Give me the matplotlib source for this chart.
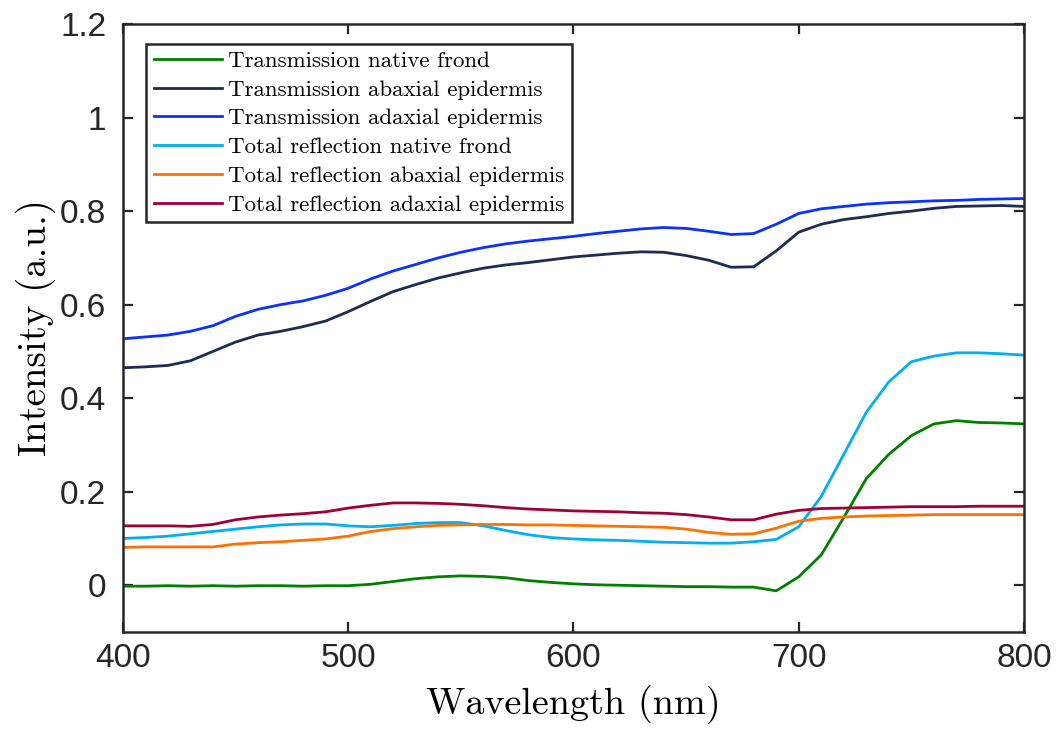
import matplotlib
matplotlib.use("Agg")
import matplotlib.pyplot as plt

wl = [400, 410, 420, 430, 440, 450, 460, 470, 480, 490,
      500, 510, 520, 530, 540, 550, 560, 570, 580, 590,
      600, 610, 620, 630, 640, 650, 660, 670, 680, 690,
      700, 710, 720, 730, 740, 750, 760, 770, 780, 790, 800]

trans_native = [-0.002, -0.002, -0.001, -0.002, -0.001, -0.002, -0.001, -0.001, -0.002, -0.001,
                -0.001, 0.002, 0.008, 0.014, 0.018, 0.020, 0.019, 0.016, 0.010, 0.006,
                0.003, 0.001, 0.000, -0.001, -0.002, -0.003, -0.003, -0.004, -0.004, -0.012,
                0.018, 0.065, 0.145, 0.228, 0.280, 0.320, 0.345, 0.352, 0.348, 0.347, 0.345]

trans_abaxial = [0.465, 0.467, 0.470, 0.480, 0.500, 0.520, 0.535, 0.543, 0.553, 0.565,
                 0.585, 0.607, 0.628, 0.643, 0.657, 0.668, 0.678, 0.685, 0.690, 0.696,
                 0.702, 0.706, 0.710, 0.713, 0.712, 0.705, 0.695, 0.680, 0.681, 0.715,
                 0.755, 0.772, 0.782, 0.788, 0.795, 0.800, 0.806, 0.810, 0.811, 0.812, 0.810]

trans_adaxial = [0.527, 0.531, 0.535, 0.543, 0.555, 0.575, 0.590, 0.600, 0.608, 0.620,
                 0.635, 0.655, 0.672, 0.686, 0.700, 0.712, 0.722, 0.730, 0.736, 0.741,
                 0.746, 0.752, 0.757, 0.762, 0.765, 0.763, 0.757, 0.750, 0.752, 0.772,
                 0.795, 0.805, 0.810, 0.815, 0.818, 0.820, 0.822, 0.823, 0.825, 0.826, 0.827]

refl_native = [0.100, 0.102, 0.105, 0.110, 0.115, 0.120, 0.125, 0.129, 0.131, 0.131,
               0.127, 0.125, 0.128, 0.132, 0.134, 0.134, 0.127, 0.117, 0.108, 0.102,
               0.099, 0.097, 0.096, 0.094, 0.092, 0.091, 0.090, 0.090, 0.093, 0.098,
               0.125, 0.190, 0.280, 0.370, 0.435, 0.478, 0.490, 0.497, 0.497, 0.495, 0.492]

refl_abaxial = [0.081, 0.082, 0.082, 0.082, 0.082, 0.088, 0.091, 0.093, 0.096, 0.099,
                0.105, 0.115, 0.121, 0.125, 0.128, 0.129, 0.130, 0.130, 0.129, 0.129,
                0.128, 0.127, 0.126, 0.125, 0.124, 0.120, 0.113, 0.109, 0.110, 0.122,
                0.137, 0.143, 0.146, 0.148, 0.149, 0.150, 0.151, 0.151, 0.151, 0.151, 0.151]

refl_adaxial = [0.127, 0.127, 0.127, 0.126, 0.130, 0.140, 0.146, 0.150, 0.153, 0.157,
                0.165, 0.171, 0.176, 0.176, 0.175, 0.173, 0.170, 0.166, 0.163, 0.161,
                0.159, 0.158, 0.157, 0.155, 0.154, 0.151, 0.146, 0.140, 0.140, 0.152,
                0.160, 0.164, 0.165, 0.166, 0.167, 0.168, 0.168, 0.168, 0.169, 0.169, 0.169]

labels = ["Transmission native frond", "Transmission abaxial epidermis",
          "Transmission adaxial epidermis", "Total reflection native frond",
          "Total reflection abaxial epidermis", "Total reflection adaxial epidermis"]
colors = ["#008000", "#1f2a55", "#0a32ff", "#00b0f0", "#ff7000", "#9e003a"]
series = [trans_native, trans_abaxial, trans_adaxial, refl_native, refl_abaxial, refl_adaxial]

xticks = [400, 500, 600, 700, 800]
yticks = [0, 0.2, 0.4, 0.6, 0.8, 1.0, 1.2]
ytick_labels = ["0", "0.2", "0.4", "0.6", "0.8", "1", "1.2"]

fig = plt.figure(figsize=(10.59, 7.36), dpi=100)
ax = fig.add_axes([0.116, 0.1413, 0.851, 0.826])

for y, lab, c in zip(series, labels, colors):
    ax.plot(wl, y, color=c, lw=2.0, label=lab)

ax.set_xlim(400, 800)
ax.set_ylim(-0.1, 1.2)
ax.set_xticks(xticks)
ax.set_yticks(yticks)
ax.set_yticklabels(ytick_labels)
ax.tick_params(direction="in", length=7, width=1.6, top=True, right=True,
               labelsize=24, colors="#262626")
ax.tick_params(axis="x", pad=8)
ax.tick_params(axis="y", pad=12)
for lab in ax.get_xticklabels() + ax.get_yticklabels():
    lab.set_family("Liberation Sans")
for s in ax.spines.values():
    s.set_linewidth(1.8)
    s.set_color("#262626")

ax.set_xlabel("Wavelength (nm)", family="cmr10", fontsize=27.5, labelpad=8)
ax.set_ylabel("Intensity (a.u.)", family="cmr10", fontsize=28, labelpad=3)

leg = ax.legend(loc="upper left", bbox_to_anchor=(0.026, 0.968), fancybox=False,
                framealpha=1, edgecolor="#262626", borderaxespad=0,
                prop={"family": "cmr10", "size": 16.5}, handlelength=3.0,
                handletextpad=0.25, labelspacing=0.38, borderpad=0.32)
leg.get_frame().set_linewidth(1.8)

fig.savefig("out.png", dpi=100)
